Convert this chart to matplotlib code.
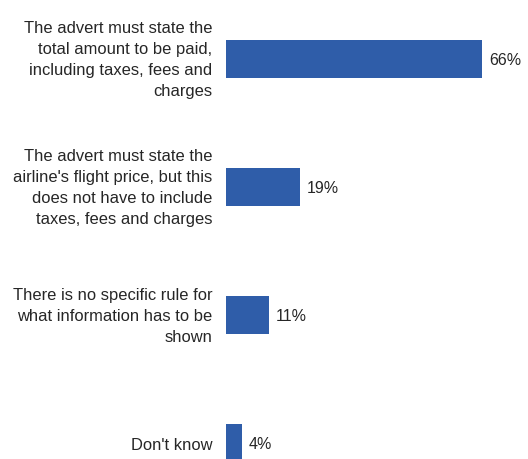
import numpy as np
import matplotlib.pyplot as plt
from matplotlib.transforms import ScaledTranslation

categories = [
    'The advert must state the\ntotal amount to be paid,\nincluding taxes, fees and\ncharges',
    "The advert must state the\nairline's flight price, but this\ndoes not have to include\ntaxes, fees and charges",
    'There is no specific rule for\nwhat information has to be\nshown',
    "Don't know",
]
values = [66, 19, 11, 4]
value_labels = ['66%', '19%', '11%', '4%']

plt.rcParams['font.family'] = ['Liberation Sans', 'DejaVu Sans']

fig = plt.figure(figsize=(5.28, 4.6), dpi=100)
ax = fig.add_axes([226 / 528, 0, 1 - 226 / 528, 1])

y = np.arange(len(values))
ax.barh(y, values, height=0.3, color='#2F5DA9')

for yi, v, lab in zip(y, values, value_labels):
    ax.annotate(lab, (v, yi), xytext=(5, 0), textcoords='offset points',
                va='center', ha='left', fontsize=11.5, color='#262626')

ax.set_yticks(y)
ax.set_yticklabels(categories, fontsize=11.9, color='#262626', linespacing=1.5)
ax.tick_params(axis='y', length=0, pad=10)
# nudge the multi-line labels up a little, like the original
shift = ScaledTranslation(0, 3 / 72, fig.dpi_scale_trans)
for t in ax.get_yticklabels():
    if '\n' in t.get_text():
        t.set_transform(t.get_transform() + shift)
ax.set_xticks([])
ax.set_xlim(0, (528 - 226) / 3.88)
ax.set_ylim(3.125, -0.469)
for s in ax.spines.values():
    s.set_visible(False)

fig.savefig('out.png', dpi=100)
